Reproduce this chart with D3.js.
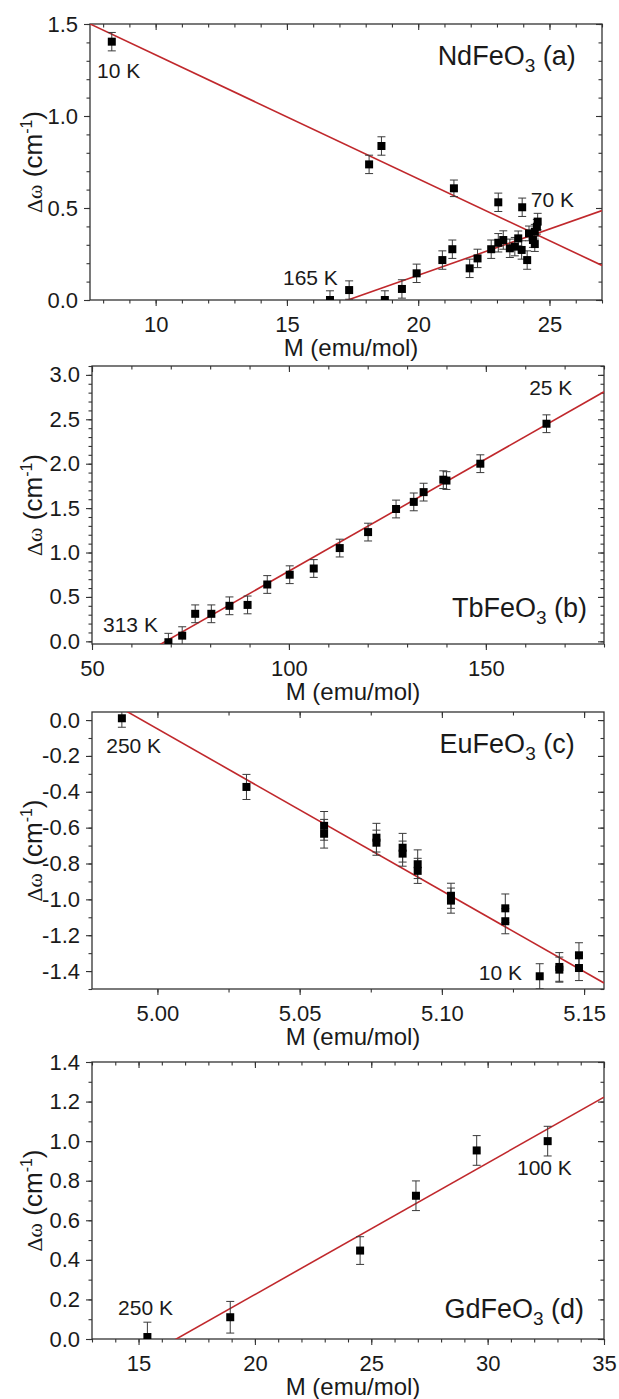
<!DOCTYPE html>
<html>
<head>
<meta charset="utf-8">
<script src="https://cdn.jsdelivr.net/npm/d3@7"></script>
<style>
  body { margin: 0; background: #fff; }
  svg { display: block; }
</style>
</head>
<body>
<script>
// NdFeO3 (a)
const ndM = [8.33, 18.13, 18.60, 21.36, 23.05, 23.96, 16.64, 17.37, 18.73, 19.38, 19.94, 20.92, 21.30, 21.96, 22.26,
  22.78, 23.05, 23.24, 23.49, 23.68, 23.81, 23.94, 24.15, 24.22, 24.37, 24.44, 24.44, 24.52, 24.55];
const ndDw = [1.404, 0.737, 0.837, 0.607, 0.531, 0.504, 0.0, 0.054, 0.0, 0.06, 0.145, 0.217, 0.276, 0.172, 0.226,
  0.276, 0.311, 0.326, 0.281, 0.29, 0.335, 0.272, 0.217, 0.362, 0.326, 0.371, 0.304, 0.398, 0.426];
const ndErr = [0.05, 0.05, 0.05, 0.045, 0.05, 0.05, 0.05, 0.05, 0.05, 0.05, 0.05, 0.05, 0.05, 0.05, 0.05,
  0.05, 0.05, 0.05, 0.05, 0.05, 0.04, 0.05, 0.05, 0.04, 0.04, 0.04, 0.04, 0.04, 0.045];
const ndFitSlope = [-0.0673, 0.0502];
const ndFitIntercept = [2.005, -0.8695];
const ndNotes = ["10 K", "70 K", "165 K"];
const ndNoteM = [7.77, 24.29, 14.85];
const ndNoteDw = [1.207, 0.505, 0.082];

// TbFeO3 (b)
const tbM = [69.4, 72.9, 76.2, 80.3, 84.9, 89.5, 94.5, 100.2, 106.3, 112.9, 120.1, 127.2, 131.7, 134.2, 139.2, 140.0, 148.6, 165.4];
const tbDw = [-0.01, 0.064, 0.31, 0.31, 0.40, 0.41, 0.64, 0.75, 0.82, 1.05, 1.23, 1.49, 1.57, 1.68, 1.82, 1.81, 2.00, 2.45];
const tbErr = [0.1, 0.1, 0.1, 0.1, 0.1, 0.1, 0.1, 0.1, 0.1, 0.1, 0.1, 0.1, 0.1, 0.1, 0.1, 0.1, 0.1, 0.1];
const tbFitSlope = [0.02525];
const tbFitIntercept = [-1.7347];
const tbNotes = ["25 K", "313 K"];
const tbNoteM = [161.0, 52.8];
const tbNoteDw = [2.774, 0.10];

// EuFeO3 (c)
const euM = [4.9875, 5.0313, 5.0586, 5.0586, 5.0770, 5.0770, 5.0862, 5.0862, 5.0915, 5.0915, 5.1032, 5.1032,
  5.1223, 5.1223, 5.1344, 5.1413, 5.1413, 5.1482, 5.1482];
const euDw = [0.01, -0.373, -0.59, -0.634, -0.656, -0.684, -0.712, -0.745, -0.804, -0.841, -0.98, -1.007,
  -1.05, -1.122, -1.429, -1.377, -1.392, -1.312, -1.383];
const euErr = [0.05, 0.07, 0.08, 0.08, 0.08, 0.07, 0.08, 0.07, 0.08, 0.07, 0.07, 0.07,
  0.08, 0.07, 0.07, 0.08, 0.07, 0.07, 0.07];
const euFitSlope = [-9.03];
const euFitIntercept = [45.101];
const euNotes = ["250 K", "10 K"];
const euNoteM = [4.982, 5.113];
const euNoteDw = [-0.184, -1.45];

// GdFeO3 (d)
const gdM = [15.38, 18.94, 24.52, 26.92, 29.53, 32.58];
const gdDw = [0.01, 0.11, 0.447, 0.724, 0.953, 1.0];
const gdErr = [0.075, 0.08, 0.07, 0.075, 0.075, 0.075];
const gdFitSlope = [0.0665];
const gdFitIntercept = [-1.1053];
const gdNotes = ["250 K", "100 K"];
const gdNoteM = [14.12, 31.26];
const gdNoteDw = [0.121, 0.829];

const FONT = "'Liberation Sans', Arial, sans-serif";
const RED = "#c0282c";

const svg = d3.select("body").append("svg")
  .attr("width", 619).attr("height", 1399)
  .style("background", "#fff");

const panels = [
  { id: "a", name: "NdFeO", tag: " (a)", M: ndM, dw: ndDw, err: ndErr, slope: ndFitSlope, icpt: ndFitIntercept,
    notes: ndNotes, noteM: ndNoteM, noteDw: ndNoteDw, nameAt: [26.0, 1.277],
    xDom: [7.5, 27], yDom: [0, 1.5], box: [90, 602, 24, 300],
    xMajor: [10, 15, 20, 25], xMinorStep: 1, yMajor: [0, 0.5, 1.0, 1.5], yMinorStep: 0.1,
    xFmt: d3.format("d"), yFmt: d3.format(".1f") },
  { id: "b", name: "TbFeO", tag: " (b)", M: tbM, dw: tbDw, err: tbErr, slope: tbFitSlope, icpt: tbFitIntercept,
    notes: tbNotes, noteM: tbNoteM, noteDw: tbNoteDw, nameAt: [175.7, 0.27],
    xDom: [50, 180], yDom: [-0.03, 3.1], box: [92, 604, 366, 644],
    xMajor: [50, 100, 150], xMinorStep: 10, yMajor: [0, 0.5, 1, 1.5, 2, 2.5, 3], yMinorStep: 0.1,
    xFmt: d3.format("d"), yFmt: d3.format(".1f") },
  { id: "c", name: "EuFeO", tag: " (c)", M: euM, dw: euDw, err: euErr, slope: euFitSlope, icpt: euFitIntercept,
    notes: euNotes, noteM: euNoteM, noteDw: euNoteDw, nameAt: [5.1467, -0.184],
    xDom: [4.977, 5.157], yDom: [-1.5, 0.045], box: [92, 604, 712, 989],
    xMajor: [5.0, 5.05, 5.1, 5.15], xMinorStep: 0.025, yMajor: [0, -0.2, -0.4, -0.6, -0.8, -1.0, -1.2, -1.4], yMinorStep: 0.1,
    xFmt: d3.format(".2f"), yFmt: v => d3.format(".1f")(v).replace("\u2212", "-") },
  { id: "d", name: "GdFeO", tag: " (d)", M: gdM, dw: gdDw, err: gdErr, slope: gdFitSlope, icpt: gdFitIntercept,
    notes: gdNotes, noteM: gdNoteM, noteDw: gdNoteDw, nameAt: [34.14, 0.106],
    xDom: [13, 35], yDom: [0, 1.4], box: [92, 604, 1062, 1339],
    xMajor: [15, 20, 25, 30, 35], xMinorStep: 1, yMajor: [0, 0.2, 0.4, 0.6, 0.8, 1.0, 1.2, 1.4], yMinorStep: 0.1,
    xFmt: d3.format("d"), yFmt: d3.format(".1f") }
];

const minorTicks = (dom, step) => {
  const lo = Math.min(dom[0], dom[1]), hi = Math.max(dom[0], dom[1]);
  const out = [];
  for (let k = Math.ceil(lo / step - 1e-6); k * step <= hi + 1e-9; k++) out.push(+(k * step).toFixed(6));
  return out;
};

const styleAxis = g => {
  g.select(".domain").remove();
  g.selectAll("line").attr("stroke", "#333").attr("stroke-width", 1.1);
  g.selectAll("text").attr("font-family", FONT).attr("font-size", 22).attr("fill", "#1a1a1a");
};

panels.forEach(p => {
  const [L, R, T, B] = p.box;
  const x = d3.scaleLinear().domain(p.xDom).range([L, R]);
  const y = d3.scaleLinear().domain(p.yDom).range([B, T]);
  const g = svg.append("g").attr("class", "panel-" + p.id);

  g.append("clipPath").attr("id", "clip-" + p.id)
    .append("rect").attr("x", L).attr("y", T).attr("width", R - L).attr("height", B - T);

  const xMinor = minorTicks(p.xDom, p.xMinorStep);
  const yMinor = minorTicks(p.yDom, p.yMinorStep);

  // minor ticks, all four sides
  g.append("g").attr("transform", `translate(0,${B})`)
    .call(d3.axisBottom(x).tickValues(xMinor).tickSize(3.5).tickFormat("")).call(styleAxis);
  g.append("g").attr("transform", `translate(0,${T})`)
    .call(d3.axisTop(x).tickValues(xMinor).tickSize(-3.5).tickFormat("")).call(styleAxis);
  g.append("g").attr("transform", `translate(${L},0)`)
    .call(d3.axisLeft(y).tickValues(yMinor).tickSize(3.5).tickFormat("")).call(styleAxis);
  g.append("g").attr("transform", `translate(${R},0)`)
    .call(d3.axisRight(y).tickValues(yMinor).tickSize(-3.5).tickFormat("")).call(styleAxis);

  // major ticks
  g.append("g").attr("transform", `translate(0,${B})`)
    .call(d3.axisBottom(x).tickValues(p.xMajor).tickSize(6).tickPadding(10).tickFormat(p.xFmt)).call(styleAxis);
  g.append("g").attr("transform", `translate(0,${T})`)
    .call(d3.axisTop(x).tickValues(p.xMajor).tickSize(-6).tickFormat("")).call(styleAxis);
  g.append("g").attr("transform", `translate(${L},0)`)
    .call(d3.axisLeft(y).tickValues(p.yMajor).tickSize(6).tickPadding(6).tickFormat(p.yFmt)).call(styleAxis);
  g.append("g").attr("transform", `translate(${R},0)`)
    .call(d3.axisRight(y).tickValues(p.yMajor).tickSize(-6).tickFormat("")).call(styleAxis);

  // frame
  g.append("rect").attr("x", L).attr("y", T).attr("width", R - L).attr("height", B - T)
    .attr("fill", "none").attr("stroke", "#333").attr("stroke-width", 1.3);

  const plot = g.append("g").attr("clip-path", `url(#clip-${p.id})`);

  // fit lines
  p.slope.forEach((s, i) => {
    const line = d3.line().x(d => x(d)).y(d => y(s * d + p.icpt[i]));
    plot.append("path").datum(p.xDom).attr("d", line)
      .attr("fill", "none").attr("stroke", RED).attr("stroke-width", 1.6);
  });

  // error bars
  const pts = p.M.map((m, i) => ({ m, v: p.dw[i], e: p.err[i] }));
  const eb = plot.append("g").attr("stroke", "#3a3a3a").attr("stroke-width", 1);
  eb.selectAll("line.v").data(pts).enter().append("line")
    .attr("x1", d => x(d.m)).attr("x2", d => x(d.m))
    .attr("y1", d => y(d.v - d.e)).attr("y2", d => y(d.v + d.e));
  eb.selectAll("line.t").data(pts).enter().append("line")
    .attr("x1", d => x(d.m) - 4).attr("x2", d => x(d.m) + 4)
    .attr("y1", d => y(d.v + d.e)).attr("y2", d => y(d.v + d.e));
  eb.selectAll("line.b").data(pts).enter().append("line")
    .attr("x1", d => x(d.m) - 4).attr("x2", d => x(d.m) + 4)
    .attr("y1", d => y(d.v - d.e)).attr("y2", d => y(d.v - d.e));

  // squares
  plot.selectAll("rect.pt").data(pts).enter().append("rect")
    .attr("x", d => x(d.m) - 4).attr("y", d => y(d.v) - 4)
    .attr("width", 8).attr("height", 8).attr("fill", "#000");

  // temperature notes
  g.selectAll("text.note").data(p.notes).enter().append("text")
    .attr("x", (d, i) => x(p.noteM[i])).attr("y", (d, i) => y(p.noteDw[i]))
    .attr("font-family", FONT).attr("font-size", 21).attr("fill", "#1a1a1a")
    .text(d => d);

  // compound name
  const nm = g.append("text")
    .attr("x", x(p.nameAt[0])).attr("y", y(p.nameAt[1]))
    .attr("text-anchor", "end")
    .attr("font-family", FONT).attr("font-size", 27).attr("fill", "#1a1a1a");
  nm.append("tspan").text(p.name);
  nm.append("tspan").attr("font-size", 19).attr("dy", 7).text("3");
  nm.append("tspan").attr("dy", -7).text(p.tag);

  // axis titles
  g.append("text")
    .attr("x", (L + R) / 2 + 5).attr("y", B + 56)
    .attr("text-anchor", "middle")
    .attr("font-family", FONT).attr("font-size", 24).attr("fill", "#1a1a1a")
    .text("M (emu/mol)");

  const yt = g.append("text")
    .attr("transform", `translate(33,${(T + B) / 2}) rotate(-90)`)
    .attr("text-anchor", "middle").attr("dy", "0.35em")
    .attr("font-family", FONT).attr("font-size", 26).attr("fill", "#1a1a1a");
  yt.append("tspan").attr("font-family", "'Liberation Serif', 'Times New Roman', serif").attr("font-size", 22).text("\u0394\u03c9");
  yt.append("tspan").text(" (cm");
  yt.append("tspan").attr("font-size", 16).attr("dy", -10).text("-1");
  yt.append("tspan").attr("dy", 10).text(")");
});
</script>
</body>
</html>
